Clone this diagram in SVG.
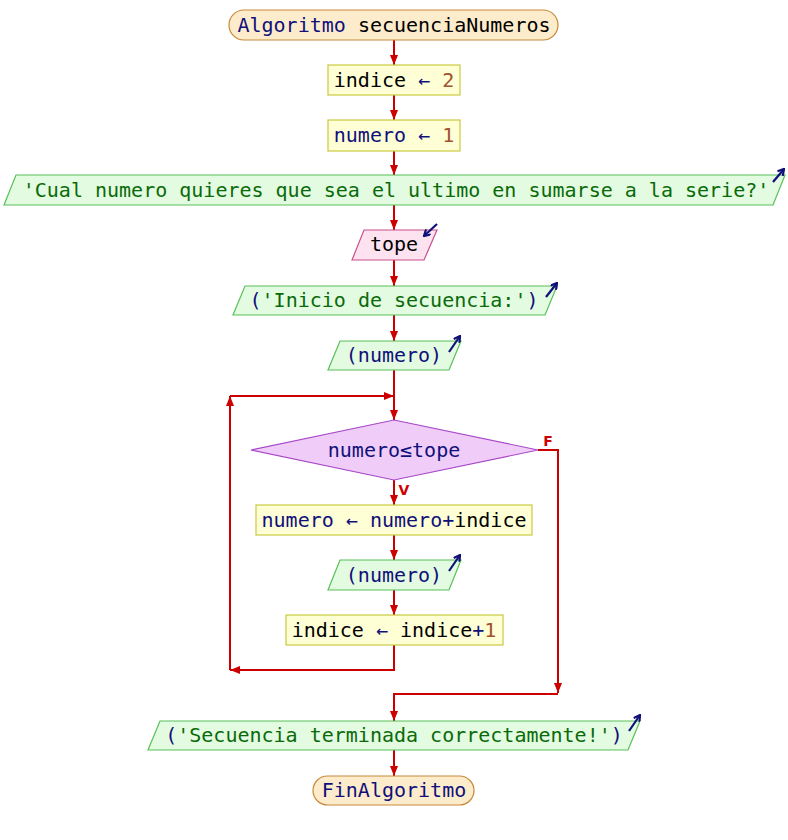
<svg xmlns="http://www.w3.org/2000/svg" width="788" height="840" viewBox="0 0 788 840">
<defs>
<marker id="ah" markerWidth="10" markerHeight="8" refX="10" refY="4" orient="auto" markerUnits="userSpaceOnUse">
<path d="M0,0 L10,4 L0,8 z" fill="#cc0000"/>
</marker>
<marker id="io" markerWidth="8" markerHeight="8" refX="7" refY="4" orient="auto" markerUnits="userSpaceOnUse">
<path d="M1,0.5 L7,4 L1,7.5" fill="none" stroke="#10107a" stroke-width="2.2"/>
</marker>
</defs>
<style>
text{font-family:"DejaVu Sans Mono","Liberation Mono",monospace;font-size:20px;text-anchor:middle}
.term{fill:#fdeccb;stroke:#c8893a;stroke-width:1.2}
.proc{fill:#ffffd6;stroke:#c8c840;stroke-width:1.2}
.out{fill:#e3fbe0;stroke:#58c058;stroke-width:1.2}
.inp{fill:#fde2ef;stroke:#c8508c;stroke-width:1.2}
.dec{fill:#f0cdf8;stroke:#a848c8;stroke-width:1.2}
.c{fill:none;stroke:#cc0000;stroke-width:2}
.ic{fill:none;stroke:#10107a;stroke-width:2.2}
.k{fill:#10107a}
.b{fill:#000000}
.s{fill:#0a6a0a}
.n{fill:#a0522d}
.lbl{font-family:"DejaVu Sans","Liberation Sans",sans-serif;font-size:14px;font-weight:bold;fill:#cc0000}
</style>
<g id="connectors">
<line class="c" x1="394" y1="40" x2="394" y2="65" marker-end="url(#ah)"/>
<line class="c" x1="394" y1="95" x2="394" y2="120" marker-end="url(#ah)"/>
<line class="c" x1="394" y1="151" x2="394" y2="175" marker-end="url(#ah)"/>
<line class="c" x1="394" y1="205" x2="394" y2="230" marker-end="url(#ah)"/>
<line class="c" x1="394" y1="260" x2="394" y2="286" marker-end="url(#ah)"/>
<line class="c" x1="394" y1="315" x2="394" y2="341" marker-end="url(#ah)"/>
<line class="c" x1="394" y1="370" x2="394" y2="420" marker-end="url(#ah)"/>
<line class="c" x1="394" y1="480" x2="394" y2="505" marker-end="url(#ah)"/>
<line class="c" x1="394" y1="535" x2="394" y2="560" marker-end="url(#ah)"/>
<line class="c" x1="394" y1="590" x2="394" y2="615" marker-end="url(#ah)"/>
<polyline class="c" points="394,645 394,670 230,670" marker-end="url(#ah)"/>
<line class="c" x1="230" y1="670" x2="230" y2="396" marker-end="url(#ah)"/>
<line class="c" x1="230" y1="396" x2="394" y2="396" marker-end="url(#ah)"/>
<polyline class="c" points="538,450 558,450 558,693" marker-end="url(#ah)"/>
<polyline class="c" points="558,694 394,694 394,721" marker-end="url(#ah)"/>
<line class="c" x1="394" y1="750" x2="394" y2="776" marker-end="url(#ah)"/>
<text class="lbl" x="548" y="446">F</text>
<text class="lbl" x="404" y="495">V</text>
</g>
<g id="start">
<rect class="term" x="229" y="10" width="329" height="30" rx="15"/>
<text x="394" y="32"><tspan class="k">Algoritmo</tspan> <tspan class="b">secuenciaNumeros</tspan></text>
</g>
<g id="asig1">
<rect class="proc" x="328" y="65" width="132" height="30"/>
<text x="394" y="87"><tspan class="b">indice</tspan> <tspan class="k">←</tspan> <tspan class="n">2</tspan></text>
</g>
<g id="asig2">
<rect class="proc" x="328" y="120" width="132" height="31"/>
<text x="394" y="142"><tspan class="k">numero</tspan> <tspan class="k">←</tspan> <tspan class="n">1</tspan></text>
</g>
<g id="out1">
<polygon class="out" points="16,175 785,175 773,205 4,205"/>
<text x="396" y="197" class="s">'Cual numero quieres que sea el ultimo en sumarse a la serie?'</text>
<line class="ic" x1="773" y1="182" x2="784" y2="169" marker-end="url(#io)"/>
</g>
<g id="in1">
<polygon class="inp" points="364,230 437,230 424,260 352,260"/>
<text x="394" y="251" class="b">tope</text>
<line class="ic" x1="437" y1="224" x2="424" y2="236" marker-end="url(#io)"/>
</g>
<g id="out2">
<polygon class="out" points="245,286 557,286 545,315 233,315"/>
<text x="394" y="307"><tspan class="k">(</tspan><tspan class="s">'Inicio de secuencia:'</tspan><tspan class="k">)</tspan></text>
<line class="ic" x1="546" y1="297" x2="557" y2="283" marker-end="url(#io)"/>
</g>
<g id="out3">
<polygon class="out" points="340,341 461,341 449,370 328,370"/>
<text x="394" y="362" class="k">(numero)</text>
<line class="ic" x1="449" y1="352" x2="460" y2="336" marker-end="url(#io)"/>
</g>
<g id="while">
<polygon class="dec" points="394,420 538,450 394,480 251,450"/>
<text x="394" y="457" class="k">numero≤tope</text>
</g>
<g id="asig3">
<rect class="proc" x="256" y="505" width="276" height="30"/>
<text x="394" y="527"><tspan class="k">numero</tspan> <tspan class="k">←</tspan> <tspan class="k">numero</tspan><tspan class="k">+</tspan><tspan class="b">indice</tspan></text>
</g>
<g id="out4">
<polygon class="out" points="340,560 461,560 449,590 328,590"/>
<text x="394" y="582" class="k">(numero)</text>
<line class="ic" x1="449" y1="571" x2="460" y2="555" marker-end="url(#io)"/>
</g>
<g id="asig4">
<rect class="proc" x="286" y="615" width="217" height="30"/>
<text x="394" y="637"><tspan class="b">indice</tspan> <tspan class="k">←</tspan> <tspan class="b">indice</tspan><tspan class="k">+</tspan><tspan class="n">1</tspan></text>
</g>
<g id="out5">
<polygon class="out" points="160,721 640,721 628,750 148,750"/>
<text x="394" y="742"><tspan class="k">(</tspan><tspan class="s">'Secuencia terminada correctamente!'</tspan><tspan class="k">)</tspan></text>
<line class="ic" x1="629" y1="731" x2="640" y2="715" marker-end="url(#io)"/>
</g>
<g id="end">
<rect class="term" x="313" y="776" width="161" height="29" rx="14.5"/>
<text x="394" y="797" class="k">FinAlgoritmo</text>
</g>
</svg>
